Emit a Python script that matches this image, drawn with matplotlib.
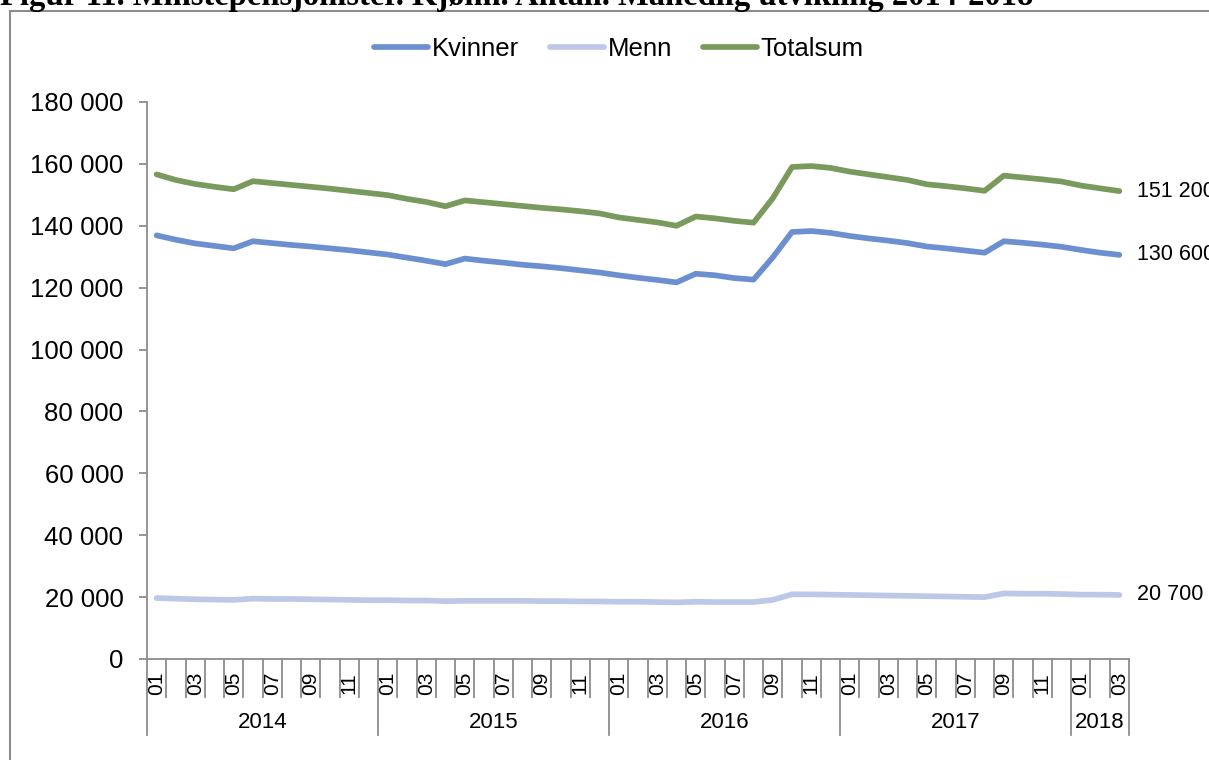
import matplotlib
matplotlib.use("Agg")
import matplotlib.pyplot as plt
import matplotlib.transforms as mtransforms
from matplotlib.patches import Rectangle
from matplotlib.ticker import FuncFormatter, MultipleLocator

plt.rcParams['font.family'] = ['Liberation Sans', 'DejaVu Sans']

# ---------------- data ----------------
years = ["2014", "2015", "2016", "2017", "2018"]
months_per_year = [12, 12, 12, 12, 3]
month_labels = ["01", "02", "03", "04", "05", "06", "07", "08", "09", "10", "11", "12"]

kvinner = [136.9, 135.5, 134.3, 133.5, 132.7, 135.0, 134.4, 133.8, 133.3, 132.7,
           132.1, 131.4, 130.7, 129.7, 128.7, 127.6, 129.4, 128.7, 128.1, 127.4,
           126.9, 126.3, 125.6, 124.9, 124.0, 123.2, 122.5, 121.7, 124.5, 124.0,
           123.1, 122.6, 129.8, 138.0, 138.3, 137.7, 136.7, 135.9, 135.2, 134.4,
           133.3, 132.7, 132.0, 131.3, 135.0, 134.5, 133.9, 133.2, 132.2, 131.3,
           130.6]
menn = [19.7, 19.5, 19.3, 19.2, 19.1, 19.5, 19.4, 19.4, 19.3, 19.2,
        19.1, 19.0, 19.0, 18.9, 18.9, 18.7, 18.8, 18.8, 18.8, 18.8,
        18.7, 18.7, 18.6, 18.6, 18.5, 18.5, 18.4, 18.3, 18.5, 18.4,
        18.4, 18.4, 19.1, 20.9, 20.9, 20.8, 20.7, 20.6, 20.5, 20.4,
        20.3, 20.2, 20.1, 20.0, 21.2, 21.1, 21.1, 21.0, 20.8, 20.8,
        20.7]
totalsum = [156.6, 154.8, 153.5, 152.6, 151.8, 154.4, 153.8, 153.2, 152.6, 152.0,
            151.3, 150.6, 149.9, 148.7, 147.7, 146.3, 148.2, 147.6, 147.0, 146.4,
            145.8, 145.3, 144.7, 144.0, 142.7, 141.9, 141.1, 140.0, 143.0, 142.4,
            141.6, 141.0, 148.9, 159.0, 159.3, 158.7, 157.5, 156.6, 155.7, 154.8,
            153.4, 152.8, 152.1, 151.3, 156.2, 155.6, 155.0, 154.3, 153.0, 152.1,
            151.2]
series_names = ["Kvinner", "Menn", "Totalsum"]
end_labels = ["130 600", "20 700", "151 200"]
colors = ["#6B8FCF", "#BDC8E8", "#7A9A5D"]
title = "Figur 11. Minstepensjonister. Kjønn. Antall. Månedlig utvikling 2014-2018"

# ---------------- figure ----------------
W, H = 1209, 760
fig = plt.figure(figsize=(W / 100, H / 100), dpi=100)
ax = fig.add_axes([147 / W, (H - 659) / H, (1129 - 147) / W, (659 - 102) / H])

# border frame
fig.patches.append(Rectangle((10 / W, -0.1), 1.2, 1 - 11 / H + 0.1,
                             transform=fig.transFigure, fill=False,
                             edgecolor="#8C8C8C", linewidth=1.5))
# title (cut at top, as in the source)
fig.text(0.0, 1 - 5 / H, title, ha="left", va="baseline", fontsize=23.5,
         fontweight="bold", family=["Liberation Serif", "DejaVu Serif"])

n = len(kvinner)
x = list(range(n))
data = [kvinner, menn, totalsum]
handles = []
for name, vals, col in zip(series_names, data, colors):
    yv = [v * 1000 for v in vals]
    h, = ax.plot(x, yv, color=col, lw=4.1, solid_capstyle="round",
                 solid_joinstyle="round", label=name, clip_on=False)
    handles.append(h)

for vals, lab in zip(data, end_labels):
    ax.annotate(lab, xy=(x[-1], vals[-1] * 1000), xytext=(12.5, 0),
                textcoords="offset points", ha="left", va="center",
                fontsize=15.5, annotation_clip=False)

ax.set_xlim(-0.5, n - 0.5)
ax.set_ylim(0, 180000)
ax.yaxis.set_major_locator(MultipleLocator(20000))
ax.yaxis.set_major_formatter(FuncFormatter(lambda v, p: f"{v:,.0f}".replace(",", " ")))
ax.tick_params(axis="y", labelsize=18.5, length=6, width=1.3, color="#8C8C8C",
               pad=11, labelcolor="black")
ax.set_xticks([])
for s in ["top", "right"]:
    ax.spines[s].set_visible(False)
for s in ["left", "bottom"]:
    ax.spines[s].set_color("#8C8C8C")
    ax.spines[s].set_linewidth(1.3)

# category axis with two levels
trans = mtransforms.blended_transform_factory(ax.transData, ax.transAxes)
ax_h = 659 - 102
short = -38 / ax_h
long_ = -76 / ax_h
idx = 0
for yr, cnt in zip(years, months_per_year):
    ax.plot([idx - 0.5, idx - 0.5], [0, long_], transform=trans, color="#8C8C8C",
            lw=1.3, clip_on=False)
    for m in range(cnt):
        if m > 0:
            ax.plot([idx + m - 0.5, idx + m - 0.5], [0, short], transform=trans,
                    color="#8C8C8C", lw=1.3, clip_on=False)
        if m % 2 == 0:
            ax.text(idx + m, -13 / ax_h, month_labels[m], transform=trans,
                    rotation=90, ha="center", va="top", fontsize=15)
    ax.text(idx + (cnt - 1) / 2, -63 / ax_h, yr, transform=trans,
            ha="center", va="center", fontsize=16)
    idx += cnt
ax.plot([idx - 0.5, idx - 0.5], [0, long_], transform=trans, color="#8C8C8C",
        lw=1.3, clip_on=False)

fig.legend(handles=handles, loc="center", bbox_to_anchor=(619 / W, 1 - 49 / H),
           ncol=3, frameon=False, fontsize=18.5, handlelength=2.1,
           handletextpad=0.15, columnspacing=1.2)

fig.savefig("out.png", dpi=100)
